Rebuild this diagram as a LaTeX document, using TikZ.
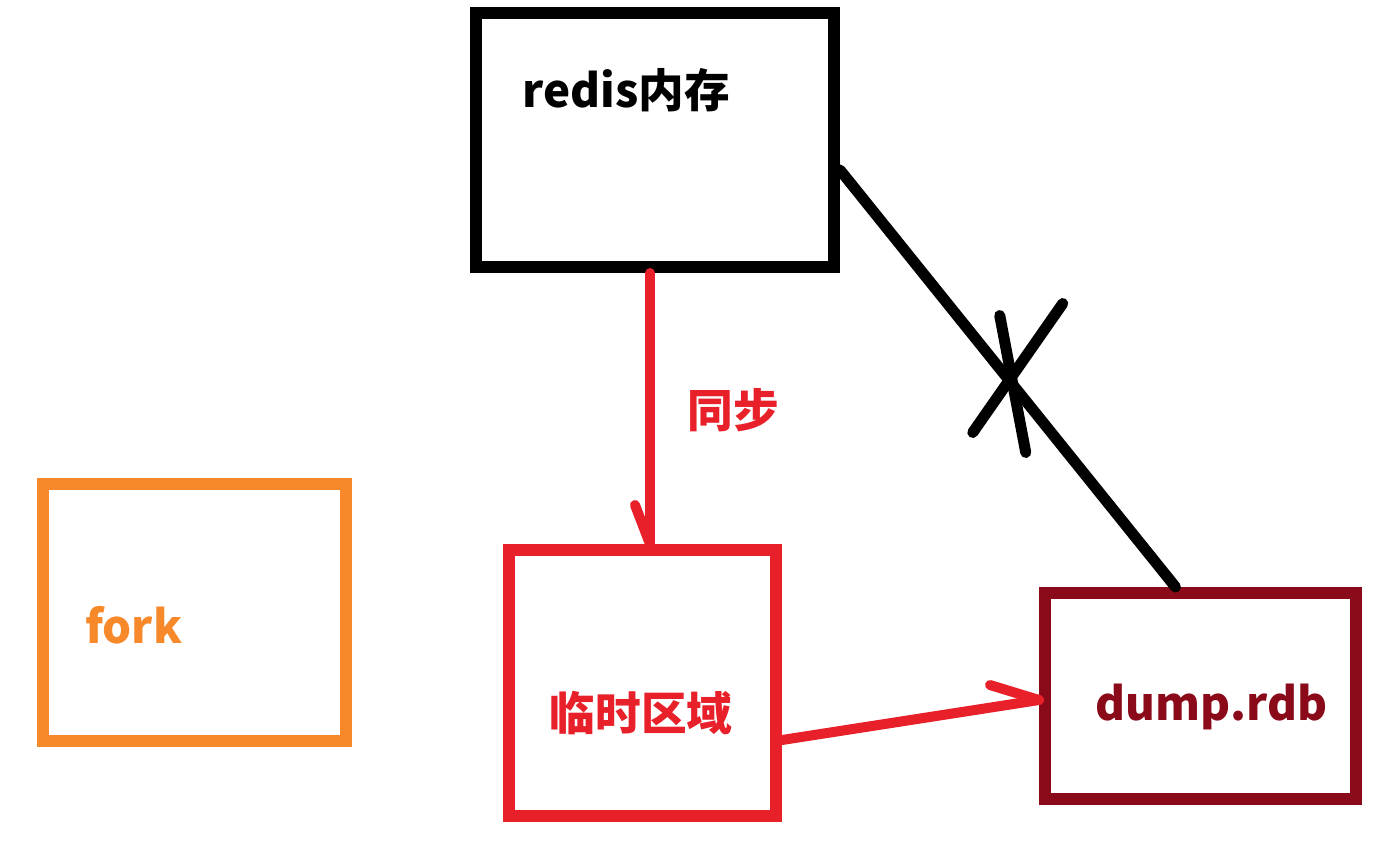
\documentclass[tikz,border=0pt]{standalone}
\usepackage{fontspec}
\setmainfont{Noto Sans CJK SC}
\usepackage{tikz}
\usetikzlibrary{calc}

\definecolor{forkorange}{HTML}{F7892B}
\definecolor{syncred}{HTML}{E8202A}
\definecolor{rdbred}{HTML}{8A0A1A}

\tikzset{
    memblock/.style={draw, line width=0.24cm, inner sep=0pt, outer sep=0.12cm},
    blocktext/.style={font=\fontsize{26}{30}\selectfont\bfseries, inner sep=0pt},
    redline/.style={syncred, line width=0.2cm, line cap=round},
    blackline/.style={black, line width=0.22cm, line cap=round}
}

\begin{document}
\begin{tikzpicture}
        % Canvas
        \fill[white] (0,0) rectangle (28,-17.08);
        \useasboundingbox (0,0) rectangle (28,-17.08);

        % Defining the blocks
        \node[memblock, minimum width=7.16cm, minimum height=5.08cm] (redis) at (13.1,-2.8) {};
        \node[memblock, forkorange, minimum width=6.06cm, minimum height=5.14cm] (fork) at (3.89,-12.25) {};
        \node[memblock, syncred, minimum width=5.34cm, minimum height=5.32cm] (temp) at (12.85,-13.66) {};
        \node[memblock, rdbred, minimum width=6.22cm, minimum height=4.12cm] (dump) at (24.01,-13.92) {};

        % Texts of the blocks
        \node[blocktext] (redistext) at (12.53,-1.8) {redis内存};
        \node[blocktext, forkorange] (forktext) at (2.67,-12.5) {fork};
        \node[blocktext, syncred] (temptext) at (12.82,-14.26) {临时区域};
        \node[blocktext, rdbred] (dumptext) at (24.23,-14.14) {dump.rdb};
        \node[blocktext, syncred] (synclabel) at (14.66,-8.2) {同步};

        % Defining the links between the blocks
        \draw[redline] ([xshift=-0.1cm]redis.south) -- ([xshift=-0.1cm]redis.south |- temp.north) coordinate (synctip);
        \draw[redline] (synctip) -- ++(-0.3,0.78);
        \draw[redline] ([yshift=-1.14cm]temp.east) -- ([yshift=-0.08cm]dump.west) coordinate (dumptip);
        \draw[redline] (dumptip) -- ++(-0.98,0.3);

        % The crossed out link
        \draw[blackline] ([yshift=-0.6cm]redis.east) -- coordinate[pos=0.5] (cut) ([xshift=-0.5cm]dump.north);
        \draw[blackline] ($(cut)+(1.1,1.5)$) -- ($(cut)+(-0.7,-1.08)$);
        \draw[blackline] ($(cut)+(-0.16,1.26)$) -- ($(cut)+(0.36,-1.48)$);

    \end{tikzpicture}
\end{document}
